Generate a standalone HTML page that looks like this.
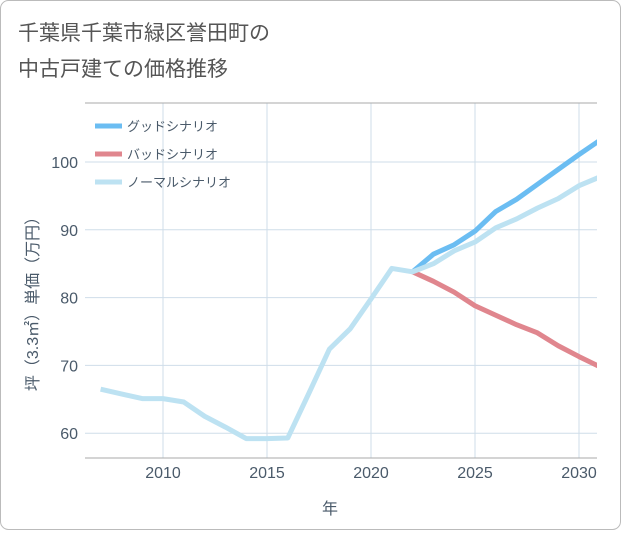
<!DOCTYPE html>
<html><head><meta charset="utf-8"><style>
body{margin:0;background:#fff;}
svg text{font-family:"Liberation Sans","Noto Sans CJK JP",sans-serif;}
</style></head><body>
<svg width="621" height="530" xmlns="http://www.w3.org/2000/svg">
<defs><clipPath id="plotclip"><rect x="85" y="103" width="512" height="355"/></clipPath></defs>
<rect x="0.5" y="0.5" width="620" height="529" rx="8" fill="#fff" stroke="#bbb"/>
<text x="18" y="40" font-size="21" fill="#555">千葉県千葉市緑区誉田町の</text>
<text x="18" y="76" font-size="21" fill="#555">中古戸建ての価格推移</text>
<g id="grid"></g>
<g id="series" clip-path="url(#plotclip)"></g>
<g id="legend"></g>
<text x="330" y="514" font-size="16" fill="#4a5a6a" text-anchor="middle">年</text>
<text transform="translate(38,300) rotate(-90)" font-size="16" fill="#4a5a6a" text-anchor="middle">坪（3.3㎡）単価（万円）</text>
</svg>
<script>
const years=[2007,2008,2009,2010,2011,2012,2013,2014,2015,2016,2017,2018,2019,2020,2021,2022,2023,2024,2025,2026,2027,2028,2029,2030,2031];
const normal=[66.5,65.8,65.1,65.1,64.6,62.5,60.9,59.2,59.2,59.3,65.8,72.4,75.4,79.8,84.3,83.8,85.0,86.9,88.2,90.3,91.6,93.2,94.6,96.5,97.8];
const goodYears=[2022,2023,2024,2025,2026,2027,2028,2029,2030,2031];
const good=[83.8,86.4,87.8,89.8,92.7,94.5,96.7,98.9,101.1,103.2];
const bad=[83.8,82.4,80.8,78.8,77.4,76.0,74.8,72.9,71.3,69.8];
const xTicks=[2010,2015,2020,2025,2030];
const yTicks=[60,70,80,90,100];
const L=85,R=597,T=103,B=458;
const x=v=>163+(v-2010)*20.8;
const y=v=>162+(100-v)*6.78;
const ns="http://www.w3.org/2000/svg";
function mk(tag,attrs,parent){const e=document.createElementNS(ns,tag);for(const k in attrs)e.setAttribute(k,attrs[k]);parent.appendChild(e);return e;}
const g=document.getElementById('grid');
xTicks.forEach(t=>{
 const l=mk('line',{x1:x(t),y1:T,x2:x(t),y2:B,stroke:'#cfdde9'},g);
 
 const tx=mk('text',{x:x(t),y:478,'font-size':16,fill:'#4a5a6a','text-anchor':'middle'},g);tx.textContent=t;
 
});
yTicks.forEach(t=>{
 const l=mk('line',{x1:L,y1:y(t),x2:R,y2:y(t),stroke:'#cfdde9'},g);
 
 const tx=mk('text',{x:78,y:y(t)+6,'font-size':16,fill:'#4a5a6a','text-anchor':'end'},g);tx.textContent=t;
 
});
const tl=mk('line',{x1:L,y1:T,x2:R,y2:T,stroke:'#aaa'},g);

const bl=mk('line',{x1:L,y1:B,x2:R,y2:B,stroke:'#aaa'},g);

const s=document.getElementById('series');
function line(xs,vs,color,name){
 const p=mk('polyline',{points:xs.map((v,i)=>x(v)+','+y(vs[i])).join(' '),fill:'none',stroke:color,'stroke-width':5,'stroke-linejoin':'round','stroke-linecap':'butt'},s);
 
}
line(goodYears,good,'#6bbdf2','good-scenario-line');
line(goodYears,bad,'#e0868e','bad-scenario-line');
line(years,normal,'#bde2f2','normal-scenario-line');
const lg=document.getElementById('legend');
[['グッドシナリオ','#6bbdf2',126],['バッドシナリオ','#e0868e',154],['ノーマルシナリオ','#bde2f2',182]].forEach(([t,c,yy])=>{
 const l=mk('line',{x1:95,y1:yy,x2:122,y2:yy,stroke:c,'stroke-width':5},lg);
 
 const tx=mk('text',{x:127,y:yy+5,'font-size':13,fill:'#4a5a6a'},lg);tx.textContent=t;
 
});
</script>
</body></html>
